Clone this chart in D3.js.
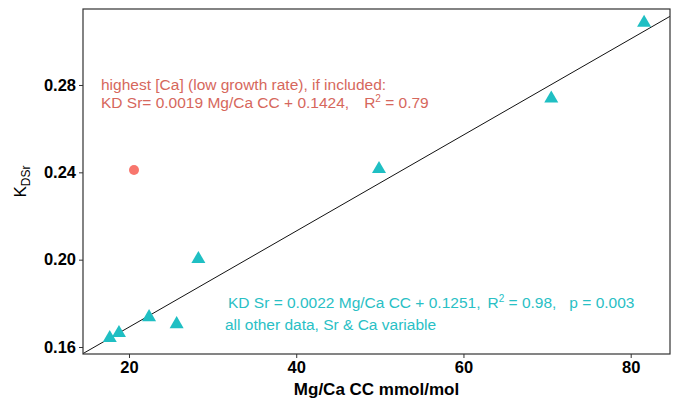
<!DOCTYPE html>
<html>
<head>
<meta charset="utf-8">
<script src="https://cdn.jsdelivr.net/npm/d3@7"></script>
<style>
  body { margin: 0; background: #fff; }
  text { font-family: "Liberation Sans", Arial, Helvetica, sans-serif; }
</style>
</head>
<body>
<div id="chart"></div>
<script>
    // Data
    var otherMgCa = [17.7, 18.8, 22.4, 25.7, 28.3, 49.9, 70.5, 81.6];
    var otherKd = [0.1641, 0.1664, 0.1737, 0.1705, 0.2003, 0.2415, 0.2738, 0.3085];
    var highCaMgCa = [20.6];
    var highCaKd = [0.2411];
    var xTicks = [20, 40, 60, 80];
    var yTicks = [0.16, 0.20, 0.24, 0.28];
    var fitSlope = 0.0022;
    var fitIntercept = 0.1251;

    var otherData = otherMgCa.map(function (d, i) { return { x: d, y: otherKd[i] }; });
    var highCaData = highCaMgCa.map(function (d, i) { return { x: d, y: highCaKd[i] }; });

    // Chart dimensions
    var W = 675, H = 399;
    var margin = { top: 9, right: 5, bottom: 45, left: 83 };
    var width = W - margin.left - margin.right;
    var height = H - margin.top - margin.bottom;

    var svg = d3.select("#chart")
      .append("svg")
      .attr("width", W)
      .attr("height", H);

    var g = svg.append("g")
      .attr("transform", "translate(" + margin.left + "," + margin.top + ")");

    var xScale = d3.scaleLinear().domain([14.5, 84.7]).range([0, width]);
    var yScale = d3.scaleLinear().domain([0.1568, 0.3148]).range([height, 0]);

    g.append("clipPath").attr("id", "clip")
      .append("rect").attr("width", width).attr("height", height);

    // Axes
    var xAxis = d3.axisBottom(xScale).tickValues(xTicks).tickSize(4).tickPadding(3)
      .tickFormat(d3.format("d"));
    var gx = g.append("g")
      .attr("transform", "translate(0," + height + ")")
      .call(xAxis);

    var yAxis = d3.axisLeft(yScale).tickValues(yTicks).tickSize(4).tickPadding(3)
      .tickFormat(d3.format(".2f"));
    var gy = g.append("g").call(yAxis);

    [gx, gy].forEach(function (ax) {
      ax.select(".domain").remove();
      ax.selectAll(".tick line").attr("stroke", "#333");
      ax.selectAll(".tick text")
        .attr("fill", "#000")
        .style("font-size", "16.5px")
        .style("font-weight", "bold");
    });

    // Regression line
    var xd = xScale.domain();
    g.append("line")
      .attr("clip-path", "url(#clip)")
      .attr("x1", xScale(xd[0]))
      .attr("y1", yScale(fitSlope * xd[0] + fitIntercept))
      .attr("x2", xScale(xd[1]))
      .attr("y2", yScale(fitSlope * xd[1] + fitIntercept))
      .attr("stroke", "#111")
      .attr("stroke-width", 1);

    // Points
    g.selectAll(".tri")
      .data(otherData)
      .enter()
      .append("path")
      .attr("class", "tri")
      .attr("d", d3.symbol().type(d3.symbolTriangle).size(85))
      .attr("transform", function (d) { return "translate(" + xScale(d.x) + "," + yScale(d.y) + ")"; })
      .attr("fill", "#1FBFC3");

    g.selectAll(".dot")
      .data(highCaData)
      .enter()
      .append("circle")
      .attr("class", "dot")
      .attr("cx", function (d) { return xScale(d.x); })
      .attr("cy", function (d) { return yScale(d.y); })
      .attr("r", 5)
      .attr("fill", "#F8766D");

    // Panel border
    g.append("rect")
      .attr("width", width)
      .attr("height", height)
      .attr("fill", "none")
      .attr("stroke", "#333")
      .attr("stroke-width", 1.2);

    // Annotations
    var red = "#D6675C", teal = "#29C0C5";
    function annot(x, y, color, parts) {
      var t = svg.append("text")
        .attr("x", x).attr("y", y)
        .attr("fill", color)
        .style("font-size", "15.5px");
      parts.forEach(function (p) {
        var ts = t.append("tspan").text(p.t);
        if (p.sup) ts.attr("dy", -6).style("font-size", "10px");
        if (p.down) ts.attr("dy", 6);
        if (p.gap) ts.attr("dx", p.gap);
      });
      return t;
    }

    annot(101, 90, red, [{ t: "highest [Ca] (low growth rate), if included:" }]);
    annot(101, 108, red, [
      { t: "KD Sr= 0.0019 Mg/Ca CC + 0.1424," },
      { t: "R", gap: 15 }, { t: "2", sup: true }, { t: " = 0.79", down: true }
    ]);
    annot(228, 308, teal, [
      { t: "KD Sr = 0.0022 Mg/Ca CC + 0.1251," },
      { t: "R", gap: 7 }, { t: "2", sup: true }, { t: " = 0.98,", down: true },
      { t: "p = 0.003", gap: 13 }
    ]);
    annot(225, 330, teal, [{ t: "all other data, Sr & Ca variable" }]);

    // Axis titles
    svg.append("text")
      .attr("x", margin.left + width / 2)
      .attr("y", 395)
      .attr("text-anchor", "middle")
      .style("font-size", "17px")
      .style("font-weight", "bold")
      .text("Mg/Ca CC mmol/mol");

    var yl = svg.append("text")
      .attr("transform", "translate(26," + (margin.top + height / 2) + ") rotate(-90)")
      .attr("text-anchor", "middle")
      .style("font-size", "17px");
    yl.append("tspan").text("K");
    yl.append("tspan").attr("dy", 4).style("font-size", "12px").text("DSr");
</script>
</body>
</html>
